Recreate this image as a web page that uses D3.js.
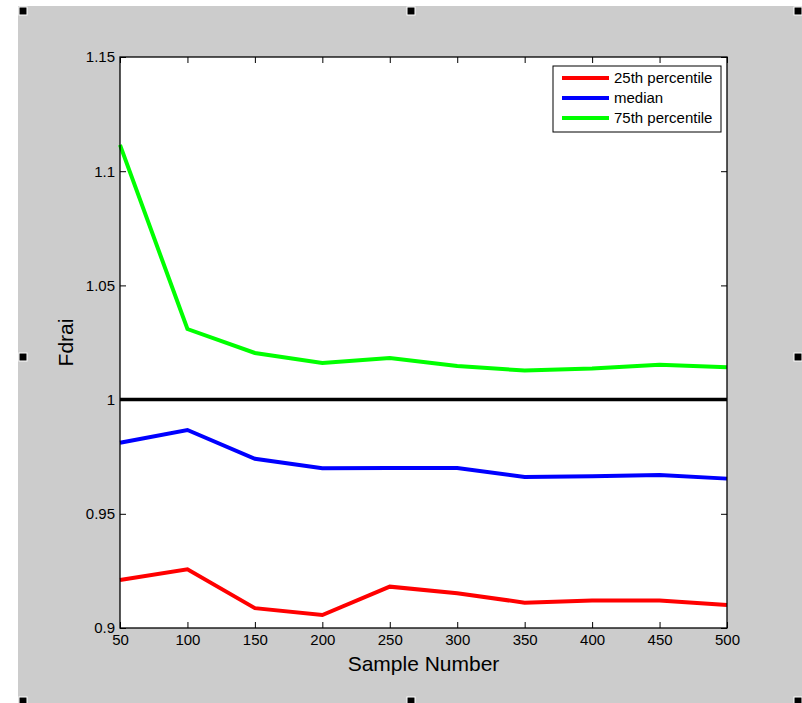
<!DOCTYPE html>
<html>
<head>
<meta charset="utf-8">
<script src="https://cdn.jsdelivr.net/npm/d3@7"></script>
<style>
  body { margin: 0; background: #fff; }
  svg text { font-family: "Liberation Sans", Arial, sans-serif; fill: #000; }
</style>
</head>
<body>
<div id="canvas"></div>
<script>
var width = 802,
	height = 703;

// data
var samples = [50, 100, 150, 200, 250, 300, 350, 400, 450, 500];
var p25 = [0.9210, 0.9257, 0.9087, 0.9057, 0.9181, 0.9152, 0.9111, 0.9120, 0.9120, 0.9101];
var median = [0.9811, 0.9867, 0.9741, 0.9699, 0.9700, 0.9700, 0.9661, 0.9664, 0.9670, 0.9654];
var p75 = [1.1115, 1.0309, 1.0204, 1.0160, 1.0182, 1.0147, 1.0127, 1.0136, 1.0153, 1.0142];
var xTicks = [50, 100, 150, 200, 250, 300, 350, 400, 450, 500];
var yTicks = [0.9, 0.95, 1, 1.05, 1.1, 1.15];
var seriesNames = ["25th percentile", "median", "75th percentile"];
var seriesColors = ["#ff0000", "#0000ff", "#00ff00"];
var refValue = 1;

var margin = {left: 120, top: 57, right: 727, bottom: 628};

var svg = d3.select("#canvas")
	.append("svg")
		.attr("width", width)
		.attr("height", height)

// gray figure background
svg.append("rect")
	.attr("x", 18)
	.attr("y", 6)
	.attr("width", width - 18)
	.attr("height", height - 6)
	.attr("fill", "#cccccc")

var x = d3.scaleLinear()
	.domain([50, 500])
	.range([margin.left, margin.right]);

var y = d3.scaleLinear()
	.domain([0.9, 1.15])
	.range([margin.bottom, margin.top]);

// plot area
svg.append("rect")
	.attr("x", margin.left)
	.attr("y", margin.top)
	.attr("width", margin.right - margin.left)
	.attr("height", margin.bottom - margin.top)
	.attr("fill", "#fff")

// axes (matlab style, ticks inward, on all four sides)
var tickLen = 6;

svg.append("g")
	.attr("transform", "translate(0," + margin.bottom + ")")
	.call(d3.axisBottom(x).tickValues(xTicks).tickSize(-tickLen).tickPadding(6).tickFormat(d3.format("d")))
	.call(function(g){
		g.select(".domain").remove();
		g.selectAll("text").attr("font-size", 15).attr("font-family", "Liberation Sans, Arial, sans-serif");
	})

svg.append("g")
	.attr("transform", "translate(0," + margin.top + ")")
	.call(d3.axisTop(x).tickValues(xTicks).tickSize(-tickLen).tickFormat(""))
	.call(function(g){ g.select(".domain").remove(); })

svg.append("g")
	.attr("transform", "translate(" + margin.left + ",0)")
	.call(d3.axisLeft(y).tickValues(yTicks).tickSize(-tickLen).tickPadding(5).tickFormat(function(d){ return d3.format("")(+d.toFixed(2)); }))
	.call(function(g){
		g.select(".domain").remove();
		g.selectAll("text").attr("font-size", 15).attr("font-family", "Liberation Sans, Arial, sans-serif");
	})

svg.append("g")
	.attr("transform", "translate(" + margin.right + ",0)")
	.call(d3.axisRight(y).tickValues(yTicks).tickSize(-tickLen).tickFormat(""))
	.call(function(g){ g.select(".domain").remove(); })

svg.selectAll(".tick line").attr("stroke", "#000")

// reference line at 1
svg.append("line")
	.attr("x1", x(50))
	.attr("x2", x(500))
	.attr("y1", y(refValue))
	.attr("y2", y(refValue))
	.attr("stroke", "#000")
	.attr("stroke-width", 3.5)

var line = d3.line()
	.x(function(d){ return x(d[0]); })
	.y(function(d){ return y(d[1]); });

var allSeries = [p25, median, p75];

svg.selectAll(".series")
	.data(allSeries)
	.enter()
	.append("path")
		.classed("series", true)
		.attr("d", function(vals){
			return line(samples.map(function(s, i){ return [s, vals[i]]; }));
		})
		.attr("fill", "none")
		.attr("stroke", function(d, i){ return seriesColors[i]; })
		.attr("stroke-width", 4)
		.attr("stroke-linejoin", "miter")

// box
svg.append("rect")
	.attr("x", margin.left)
	.attr("y", margin.top)
	.attr("width", margin.right - margin.left)
	.attr("height", margin.bottom - margin.top)
	.attr("fill", "none")
	.attr("stroke", "#000")
	.attr("stroke-width", 1.3)

// legend
var legend = svg.append("g")
	.attr("transform", "translate(553,66)")

legend.append("rect")
	.attr("width", 168)
	.attr("height", 66)
	.attr("fill", "#fff")
	.attr("stroke", "#000")
	.attr("stroke-width", 1)

var item = legend.selectAll(".item")
	.data(seriesNames)
	.enter()
	.append("g")
		.classed("item", true)
		.attr("transform", function(d, i){ return "translate(0," + (12 + i * 20) + ")"; })

item.append("line")
	.attr("x1", 9)
	.attr("x2", 56)
	.attr("stroke", function(d, i){ return seriesColors[i]; })
	.attr("stroke-width", 4)

item.append("text")
	.attr("x", 61)
	.attr("dy", "0.35em")
	.attr("font-size", 15)
	.text(function(d){ return d; })

// axis labels
svg.append("text")
	.attr("x", (margin.left + margin.right) / 2)
	.attr("y", 671)
	.attr("text-anchor", "middle")
	.attr("font-size", 21)
	.text("Sample Number")

svg.append("text")
	.attr("transform", "translate(73," + ((margin.top + margin.bottom) / 2) + ") rotate(-90)")
	.attr("text-anchor", "middle")
	.attr("font-size", 21)
	.text("Fdrai")

// selection handles
var handles = [[19, 7], [407, 7], [794, 7], [19, 353], [794, 353], [19, 697], [407, 697], [794, 697]];
svg.selectAll(".handle")
	.data(handles)
	.enter()
	.append("rect")
		.classed("handle", true)
		.attr("x", function(d){ return d[0]; })
		.attr("y", function(d){ return d[1]; })
		.attr("width", 8)
		.attr("height", 8)
		.attr("fill", "#000")
		.attr("stroke", "#fff")
		.attr("stroke-width", 1)
</script>
</body>
</html>
